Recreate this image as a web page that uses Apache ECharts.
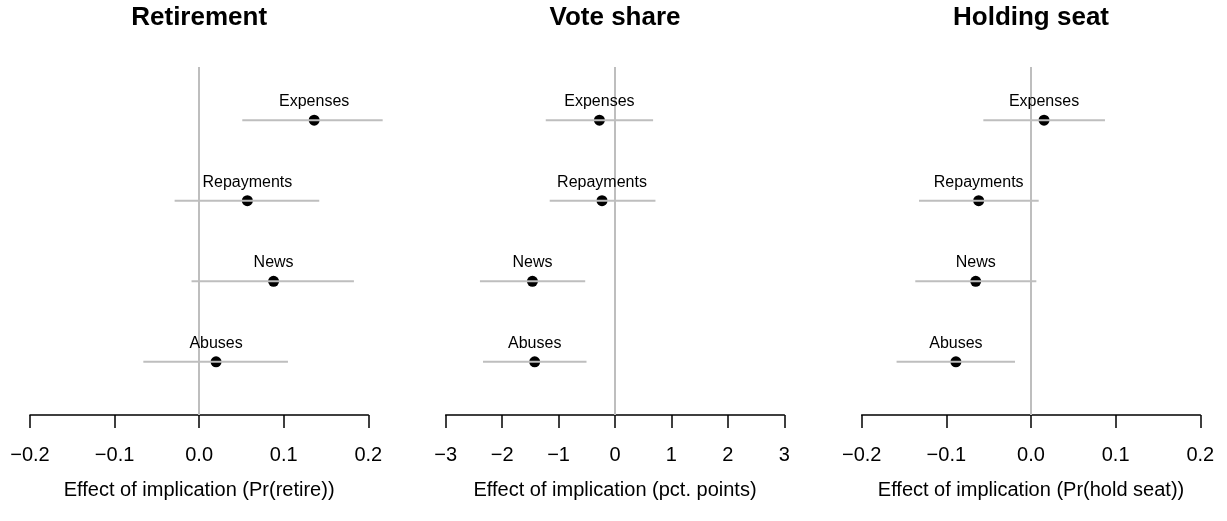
<!DOCTYPE html>
<html><head><meta charset="utf-8">
<script src="https://cdn.jsdelivr.net/npm/echarts/dist/echarts.min.js"></script>
<style>html,body{margin:0;padding:0;background:#fff}#c{width:1227px;height:521px}</style>
</head><body><div id="c"></div>
<script>
const categories = ["Abuses", "News", "Repayments", "Expenses"];
const panelTitles = ["Retirement", "Vote share", "Holding seat"];
const axisTitles = ["Effect of implication (Pr(retire))", "Effect of implication (pct. points)", "Effect of implication (Pr(hold seat))"];

const retireEst = [0.020, 0.088, 0.057, 0.136];
const retireLo  = [-0.066, -0.009, -0.029, 0.051];
const retireHi  = [0.105, 0.183, 0.142, 0.217];

const voteEst = [-1.423, -1.463, -0.230, -0.276];
const voteLo  = [-2.339, -2.393, -1.157, -1.227];
const voteHi  = [-0.505, -0.528, 0.717, 0.675];

const seatEst = [-0.0887, -0.0653, -0.0618, 0.0154];
const seatLo  = [-0.1588, -0.1367, -0.1323, -0.0563];
const seatHi  = [-0.0189, 0.0063, 0.0091, 0.0874];

const retireTicks = ["\u22120.2", "\u22120.1", "0.0", "0.1", "0.2"];
const voteTicks = ["\u22123", "\u22122", "\u22121", "0", "1", "2", "3"];
const seatTicks = ["\u22120.2", "\u22120.1", "0.0", "0.1", "0.2"];

const FONT = "Liberation Sans";
const panels = [
  {est: retireEst, lo: retireLo, hi: retireHi, ticks: retireTicks, min: -0.2, max: 0.2, interval: 0.1, left: 30, width: 338.3},
  {est: voteEst, lo: voteLo, hi: voteHi, ticks: voteTicks, min: -3, max: 3, interval: 1, left: 445.7, width: 338.6},
  {est: seatEst, lo: seatLo, hi: seatHi, ticks: seatTicks, min: -0.2, max: 0.2, interval: 0.1, left: 861.7, width: 338.6}
];

const grid = [], xAxis = [], yAxis = [], series = [], graphic = [];
panels.forEach((p, k) => {
  grid.push({left: p.left, width: p.width, top: 67, height: 348});
  xAxis.push({
    type: 'value', gridIndex: k, min: p.min, max: p.max, interval: p.interval,
    splitLine: {show: false},
    axisLine: {show: true, lineStyle: {color: '#000', width: 1.5}},
    axisTick: {show: true, length: 13, lineStyle: {color: '#000', width: 1.5}},
    axisLabel: {
      margin: 30, color: '#000', fontSize: 20, fontFamily: FONT,
      formatter: (v) => p.ticks[Math.round((v - p.min) / p.interval)]
    },
    name: axisTitles[k], nameLocation: 'middle', nameGap: 65,
    nameTextStyle: {color: '#000', fontSize: 20, fontFamily: FONT}
  });
  yAxis.push({type: 'value', gridIndex: k, min: 0.34, max: 4.66, show: false});
  series.push({
    type: 'scatter', xAxisIndex: k, yAxisIndex: k, z: 2,
    symbol: 'circle', symbolSize: 11,
    itemStyle: {color: '#000', opacity: 1},
    data: categories.map((c, i) => [p.est[i], i + 1, c]),
    label: {
      show: true, position: 'top', distance: 5, color: '#000', fontSize: 16, fontFamily: FONT,
      formatter: (q) => q.data[2]
    },
    markLine: {
      silent: true, symbol: ['none', 'none'], label: {show: false}, z: 1,
      lineStyle: {color: '#bebebe', width: 2, type: 'solid'},
      data: [{xAxis: 0}]
    }
  });
  series.push({
    type: 'custom', xAxisIndex: k, yAxisIndex: k, z: 3,
    encode: {x: [0, 1], y: 2},
    data: categories.map((c, i) => [p.lo[i], p.hi[i], i + 1]),
    renderItem: (params, api) => {
      const a = api.coord([api.value(0), api.value(2)]);
      const b = api.coord([api.value(1), api.value(2)]);
      return {type: 'line', shape: {x1: a[0], y1: a[1], x2: b[0], y2: b[1]},
              style: {stroke: '#bebebe', lineWidth: 2}};
    }
  });
  graphic.push({
    type: 'text', x: p.left + p.width / 2, y: 18,
    style: {text: panelTitles[k], textAlign: 'center', textVerticalAlign: 'middle',
            font: 'bold 26px "' + FONT + '"', fill: '#000'}
  });
});

const chart = echarts.init(document.getElementById('c'), null, {renderer: 'canvas'});
chart.setOption({animation: false, backgroundColor: '#fff', grid, xAxis, yAxis, series, graphic});
</script></body></html>
